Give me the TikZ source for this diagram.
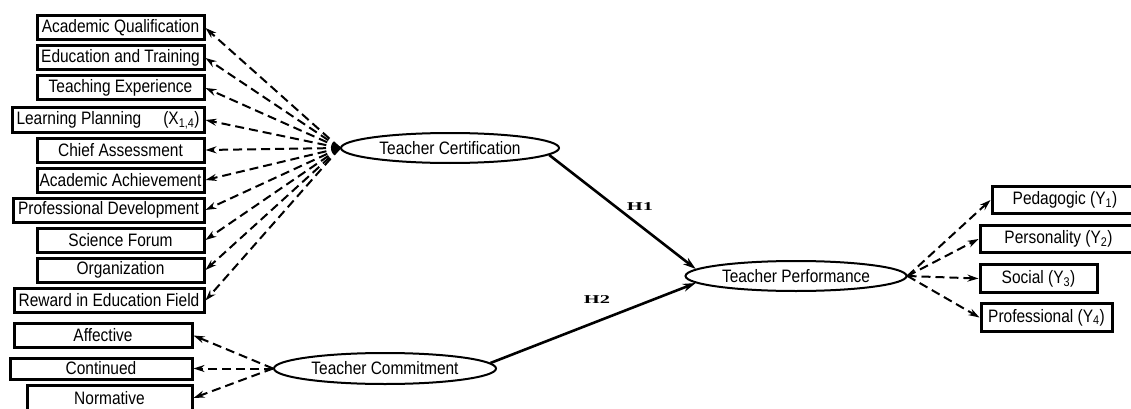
\documentclass[tikz,border=0pt]{standalone}
\usepackage{graphicx}
\usepackage{fontspec}
\setmainfont{Liberation Sans}[FakeStretch=0.86]
\newfontfamily\hypfont{Liberation Serif}
\usetikzlibrary{shapes.geometric,arrows.meta}

\begin{document}
\begin{tikzpicture}[x=1pt,y=-1pt,
    ind/.style={draw,line width=3pt,fill=white,anchor=east,minimum height=24pt,inner sep=0pt,font=\fontsize{18}{20}\selectfont},
    lat/.style={draw,ellipse,line width=2pt,fill=white,inner sep=0pt,font=\fontsize{18}{20}\selectfont},
    load/.style={line width=2pt,dash pattern=on 9pt off 5pt,-{Stealth[length=11pt,width=7pt]}},
    hyp/.style={line width=2.6pt,-{Stealth[length=13pt,width=8pt]}}]
    \useasboundingbox (0,0) rectangle (1131,409);
    % indicators of teacher certification, right edges at x = 207
    \node[ind,minimum width=167] (aq) at (205.5,28) {Academic Qualification};
    \node[ind,minimum width=167] (et) at (205.5,58) {Education and Training};
    \node[ind,minimum width=167] (te) at (205.5,88) {Teaching Experience};
    \node[ind,minimum width=192] (lp) at (205.5,120) {Learning Planning\hspace{22pt}(X\textsubscript{1,4})};
    \node[ind,minimum width=167] (ca) at (205.5,150) {Chief Assessment};
    \node[ind,minimum width=167] (ac) at (205.5,180) {Academic Achievement};
    \node[ind,minimum width=191] (pd) at (205.5,210) {Professional Development};
    \node[ind,minimum width=167] (sf) at (205.5,240) {Science Forum};
    \node[ind,minimum width=167] (og) at (205.5,270) {Organization};
    \node[ind,minimum width=190] (rw) at (205.5,300.5) {Reward in Education Field};
    % indicators of teacher commitment
    \node[ind,minimum width=178] (af) at (193.5,335.5) {Affective};
    \node[ind,minimum width=182,minimum height=21pt] (cn) at (193.5,368.5) {Continued};
    \node[ind,minimum width=165,minimum height=25pt] (nm) at (193.5,398) {Normative};
    % indicators of teacher performance
    \node[ind,anchor=west,minimum width=146,minimum height=27pt] (pg) at (990.5,200) {Pedagogic (Y\textsubscript{1})};
    \node[ind,anchor=west,minimum width=157,minimum height=27pt] (ps) at (978.5,239) {Personality (Y\textsubscript{2})};
    \node[ind,anchor=west,minimum width=117,minimum height=28pt] (sc) at (978.5,278.5) {Social (Y\textsubscript{3})};
    \node[ind,anchor=west,minimum width=131,minimum height=28pt] (pf) at (979.5,317.5) {Professional (Y\textsubscript{4})};
    % latent variables
    \node[lat,minimum width=218,minimum height=30] (tc) at (450,148) {Teacher Certification};
    \node[lat,minimum width=222,minimum height=31] (tcm) at (385,368.5) {Teacher Commitment};
    \node[lat,minimum width=221,minimum height=30] (tp) at (796,276) {Teacher Performance};
    \draw[load] (tc.west) -- (aq.east); \draw[load] (tc.west) -- (et.east);
    \draw[load] (tc.west) -- (te.east); \draw[load] (tc.west) -- (lp.east);
    \draw[load] (tc.west) -- (ca.east); \draw[load] (tc.west) -- (ac.east);
    \draw[load] (tc.west) -- (pd.east); \draw[load] (tc.west) -- (sf.east);
    \draw[load] (tc.west) -- (og.east); \draw[load] (tc.west) -- (rw.east);
    \draw[load] (tcm.west) -- (af.east); \draw[load] (tcm.west) -- (cn.east);
    \draw[load] (tcm.west) -- (nm.east);
    \draw[load] (tp.east) -- (pg.west); \draw[load] (tp.east) -- (ps.west);
    \draw[load] (tp.east) -- (sc.west); \draw[load] (tp.east) -- (pf.west);
    \draw[hyp] (tc.-4) -- (tp.176); \draw[hyp] (tcm.3) -- (tp.184);
    \node (h1) at (640,207) {\fontsize{12}{13}\hypfont\bfseries\scalebox{1.7}[1]{H1}};
    \node (h2) at (597,300) {\fontsize{12}{13}\hypfont\bfseries\scalebox{1.7}[1]{H2}};
\end{tikzpicture}
\end{document}
